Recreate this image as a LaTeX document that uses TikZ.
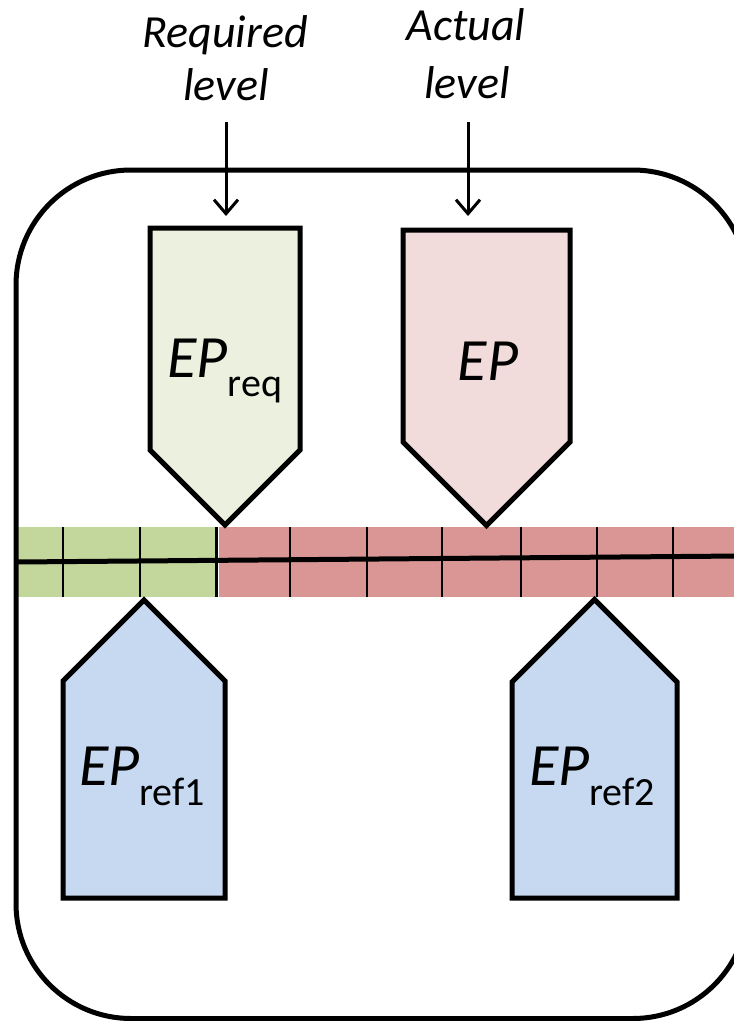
\documentclass[tikz,border=0pt]{standalone}
\usepackage{fontspec}
\setmainfont{Carlito}
\usetikzlibrary{arrows.meta}
\definecolor{reqfill}{HTML}{EBF1DE}
\definecolor{actfill}{HTML}{F2DCDB}
\definecolor{reffill}{HTML}{C6D9F1}
\definecolor{bargreen}{HTML}{C3D69B}
\definecolor{barred}{HTML}{D99694}
\begin{document}
\begin{tikzpicture}[x=1pt,y=-1pt,
  pentagon/.style={draw=black,line width=5pt,line join=miter},
  levellabel/.style={inner sep=0pt,font=\fontsize{46}{53}\selectfont\itshape},
  eplabel/.style={inner sep=0pt,font=\fontsize{60}{70}\selectfont},
  levelarrow/.style={line width=3pt,-{Straight Barb[length=14pt,width=24pt]}},
  tick/.style={line width=2.2pt},
]
\useasboundingbox (0,0) rectangle (734,1021);
\clip (0,0) rectangle (734,1021);

% scale bar: required zone (green) and shortfall zone (red)
\fill[bargreen] (16,527) rectangle (216,597);
\fill[barred] (219,527) rectangle (740,597);
\foreach \x in {63,140,216.5,290,367,442,521,597,673}
  \draw[tick] (\x,527) -- (\x,597);
\draw[line width=5pt] (16,562) -- (740,556);

% frame
\draw[line width=5pt,rounded corners=115pt] (16,170) rectangle (748,1018.5);

% pointers above the bar
\draw[pentagon,fill=reqfill] (150,228) -- (300,228) -- (300,450) -- (225,525) -- (150,450) -- cycle;
\draw[pentagon,fill=actfill] (403,230) -- (570,230) -- (570,442) -- (486.5,525.5) -- (403,442) -- cycle;
\coordinate (reqtop) at (226,228);
\coordinate (acttop) at (468,230);

% pointers below the bar
\draw[pentagon,fill=reffill] (63,898) -- (63,681) -- (144,600) -- (225,681) -- (225,898) -- cycle;
\draw[pentagon,fill=reffill] (512,898) -- (512,682) -- (594.5,599.5) -- (677,682) -- (677,898) -- cycle;

% labels inside the pointers
\node[eplabel,anchor=base] (epreq) at (225,377)
  {\textit{EP}\raisebox{-19pt}{\fontsize{40}{40}\selectfont req}};
\node[eplabel,anchor=base] (epact) at (488,380) {\textit{EP}};
\node[eplabel,anchor=base] (epref1) at (142,785)
  {\textit{EP}\raisebox{-20pt}{\fontsize{40}{40}\selectfont ref1}};
\node[eplabel,anchor=base] (epref2) at (592,785)
  {\textit{EP}\raisebox{-20pt}{\fontsize{40}{40}\selectfont ref2}};

% level captions and their arrows
\node[levellabel,anchor=base] (reqA) at (225,47) {Required};
\node[levellabel,anchor=base] (reqB) at (226,100) {level};
\node[levellabel,anchor=base] (actA) at (466,40) {Actual};
\node[levellabel,anchor=base] (actB) at (467,98) {level};
\draw[levelarrow,shorten <=22pt,shorten >=12pt] (reqB.base -| reqtop) -- (reqtop);
\draw[levelarrow,shorten <=24pt,shorten >=14pt] (actB.base -| acttop) -- (acttop);
\end{tikzpicture}
\end{document}
